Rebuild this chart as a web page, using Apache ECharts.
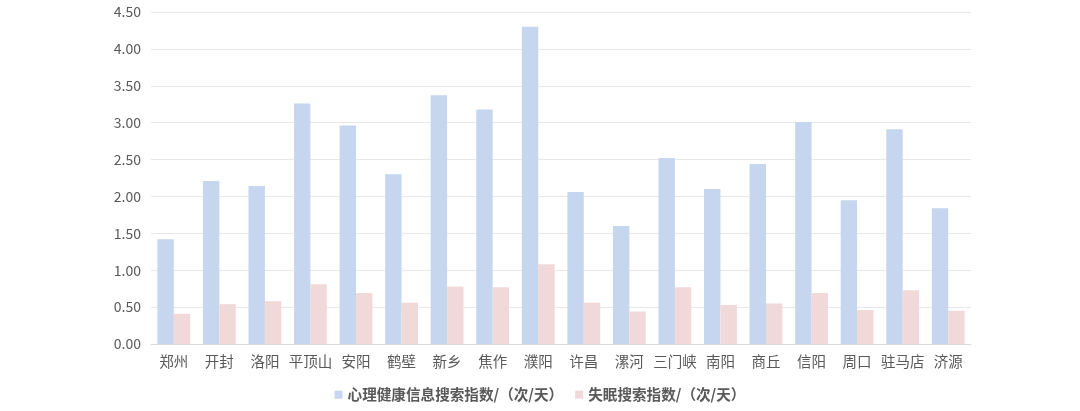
<!DOCTYPE html>
<html><head><meta charset="utf-8">
<script src="https://cdn.jsdelivr.net/npm/echarts@6/dist/echarts.min.js"></script>
<style>html,body{margin:0;padding:0;background:#fff}#c{width:1080px;height:411px}</style>
</head><body><div id="c"></div>
<script>
const categories = ['郑州','开封','洛阳','平顶山','安阳','鹤壁','新乡','焦作','濮阳','许昌','漯河','三门峡','南阳','商丘','信阳','周口','驻马店','济源'];
const mentalHealth = [1.42,2.21,2.14,3.26,2.96,2.30,3.37,3.18,4.30,2.06,1.60,2.52,2.10,2.44,3.01,1.95,2.91,1.84];
const insomnia = [0.41,0.54,0.58,0.81,0.69,0.56,0.78,0.77,1.08,0.56,0.44,0.77,0.53,0.55,0.69,0.46,0.73,0.45];
const seriesNames = ['心理健康信息搜索指数/（次/天）','失眠搜索指数/（次/天）'];

const chart = echarts.init(document.getElementById('c'), null, {renderer:'canvas'});
const font = '"Microsoft YaHei","Noto Sans CJK SC",sans-serif';
chart.setOption({
  animation:false,
  textStyle:{fontFamily:font},
  grid:{left:151,right:109,top:12,bottom:67,containLabel:false},
  legend:{
    data:seriesNames, bottom:4, left:'center',
    itemWidth:8,itemHeight:8,itemGap:12,icon:'rect',
    textStyle:{fontSize:14.6,fontWeight:'bold',color:'#595959',fontFamily:font}
  },
  xAxis:{
    type:'category', data:categories,
    axisLine:{show:true,lineStyle:{color:'#d9d9d9'}},
    axisTick:{show:false},
    axisLabel:{fontSize:14.5,color:'#595959',margin:10,interval:0}
  },
  yAxis:{
    type:'value', min:0, max:4.5, interval:0.5,
    axisLine:{show:false}, axisTick:{show:false},
    axisLabel:{fontSize:14,color:'#595959',margin:10,formatter:v=>v.toFixed(2)},
    splitLine:{lineStyle:{color:'#e8e8e8'}}
  },
  series:[
    {name:seriesNames[0],type:'bar',data:mentalHealth,barGap:'0%',barCategoryGap:'28%',itemStyle:{color:'#c5d6ee'}},
    {name:seriesNames[1],type:'bar',data:insomnia,itemStyle:{color:'#f1d9d9'}}
  ]
});
</script></body></html>
